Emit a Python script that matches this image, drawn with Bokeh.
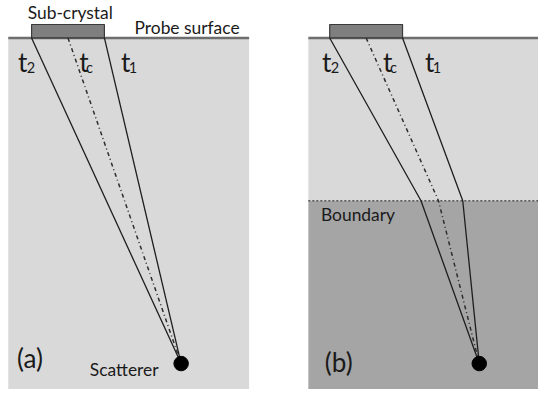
from bokeh.plotting import figure
from bokeh.models import Range1d
from bokeh.core.properties import value
from bokeh.embed import file_html
from bokeh.resources import INLINE

FONT = "Lato"

# --- diagram geometry (reference pixel units, y grows downward) ---
panel_left = [8, 317]
panel_right = [256, 554]
panel_bottom = [405, 405]
surface_y = 39
boundary_y = 208.5            # panel (b) only
crystal_left = [32, 339]
crystal_right = [107, 414]
crystal_top = 25
scatterer_x = [186, 493]
scatterer_y = [378, 378]

# rays: panel (a) straight, panel (b) refracted at boundary
ray_a_t2_x = [32, 186];            ray_a_t2_y = [39, 378]
ray_a_tc_x = [69.5, 186];          ray_a_tc_y = [39, 378]
ray_a_t1_x = [107, 186];           ray_a_t1_y = [39, 378]
ray_b_t2_x = [339, 433, 493];      ray_b_t2_y = [39, 208.5, 378]
ray_b_tc_x = [376.5, 451, 493];    ray_b_tc_y = [39, 208.5, 378]
ray_b_t1_x = [414, 476, 493];      ray_b_t1_y = [39, 208.5, 378]

# labels (baseline positions in reference pixels)
label_text = ["Sub-crystal", "Probe surface", "Scatterer", "Boundary"]
label_x = [28, 138, 92, 330]
label_y = [18, 34, 390, 229]
panel_label_text = ["(a)", "(b)"]
panel_label_x = [17, 334]
panel_label_y = [381, 385]
t_main_x = [18, 81, 124, 331, 394, 437]
t_main_y = [73, 73, 73, 73, 73, 73]
t_sub_text = ["2", "c", "1", "2", "c", "1"]
t_sub_x = [27, 88, 132, 340, 401, 445]
t_sub_y = [75, 75, 75, 75, 75, 75]

W, H = 538, 389
REF_W, REF_H = 554, 405
S = (W / REF_W + H / REF_H) / 2
DESC = 0.33   # renderer baseline offset, as a fraction of font size

def px(v):
    return f"{v * S:.1f}px"

def up(ys, size):
    return [y - DESC * size for y in ys]

p = figure(width=W, height=H, x_range=Range1d(0, REF_W), y_range=Range1d(REF_H, 0),
           output_backend="svg", toolbar_location=None, min_border=0,
           x_axis_type=None, y_axis_type=None)
p.grid.visible = False
p.outline_line_color = None
p.background_fill_color = "white"
p.border_fill_color = "white"

LIGHT = "#d9d9d9"
DARK = "#a5a5a5"

# panel backgrounds
p.quad(left=[panel_left[0]], right=[panel_right[0]], top=[surface_y], bottom=[panel_bottom[0]],
       fill_color=LIGHT, line_color=None)
p.quad(left=[panel_left[1]], right=[panel_right[1]], top=[surface_y], bottom=[boundary_y],
       fill_color=LIGHT, line_color=None)
p.quad(left=[panel_left[1]], right=[panel_right[1]], top=[boundary_y], bottom=[panel_bottom[1]],
       fill_color=DARK, line_color=None)

# boundary dotted line
p.line([panel_left[1], panel_right[1]], [boundary_y, boundary_y], line_color="#555555",
       line_width=1.5, line_dash="2 2")

# probe surface lines
for i in range(2):
    p.line([panel_left[i], panel_right[i]], [surface_y, surface_y], line_color="#6e6e6e", line_width=2.5)

# sub-crystals
p.quad(left=crystal_left, right=crystal_right, top=[crystal_top] * 2, bottom=[surface_y] * 2,
       fill_color="#7f7f7f", line_color="#3a3a3a", line_width=1.2)

# rays
RAY = "#1e1e1e"
for xs, ys in [(ray_a_t2_x, ray_a_t2_y), (ray_a_t1_x, ray_a_t1_y),
               (ray_b_t2_x, ray_b_t2_y), (ray_b_t1_x, ray_b_t1_y)]:
    p.line(xs, ys, line_color=RAY, line_width=1.3)
for xs, ys in [(ray_a_tc_x, ray_a_tc_y), (ray_b_tc_x, ray_b_tc_y)]:
    p.line(xs, ys, line_color="#2e2e2e", line_width=1.5, line_dash="4 3 1 3")

# scatterers
p.scatter(scatterer_x, scatterer_y, size=14.5, fill_color="black", line_color="black")

# texts
TXT = "#1a1a1a"
p.text(label_x, up(label_y, 18), text=label_text, text_font=value(FONT), text_font_size=px(18),
       text_baseline="alphabetic", text_align="left", text_color=TXT)
p.text(panel_label_x, up(panel_label_y, 27), text=panel_label_text, text_font=value(FONT),
       text_font_size=px(27), text_baseline="alphabetic", text_align="left", text_color=TXT)
p.text(t_main_x, up(t_main_y, 27), text=["t"] * 6, text_font=value(FONT), text_font_size=px(27),
       text_baseline="alphabetic", text_align="left", text_color=TXT)
p.text(t_sub_x, up(t_sub_y, 15), text=t_sub_text, text_font=value(FONT), text_font_size=px(15),
       text_baseline="alphabetic", text_align="left", text_color=TXT)

open("out.html", "w").write(file_html(p, INLINE))
